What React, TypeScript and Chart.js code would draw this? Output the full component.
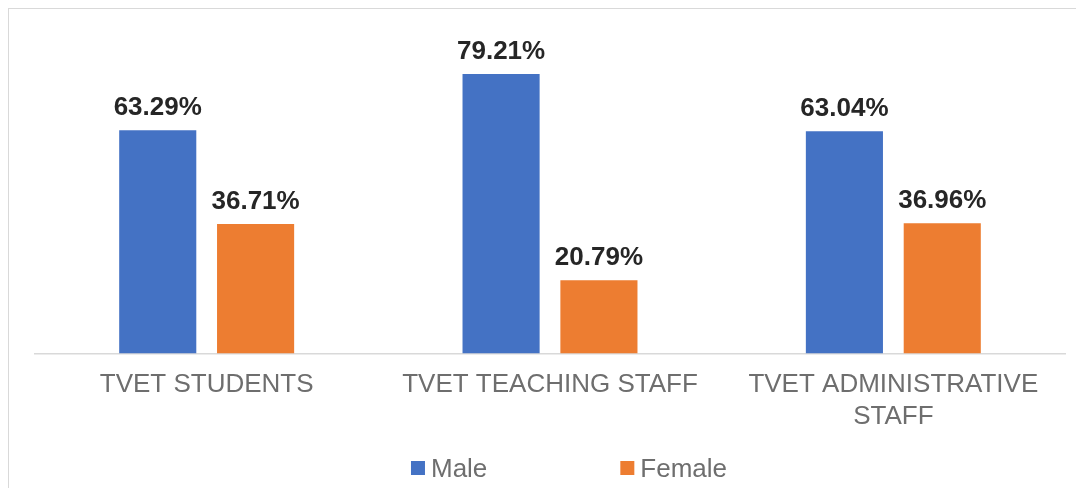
import { useEffect, useRef } from "react";
import { Chart, registerables } from "chart.js";

Chart.register(...registerables);

const CATEGORIES: string[][] = [
  ["TVET STUDENTS"],
  ["TVET TEACHING STAFF"],
  ["TVET ADMINISTRATIVE", "STAFF"],
];
const SERIES_NAMES = ["Male", "Female"];
const MALE = [63.29, 79.21, 63.04];
const FEMALE = [36.71, 20.79, 36.96];
const COLORS = ["#4472C4", "#ED7D31"];

const FONT = '"Liberation Sans", Arial, sans-serif';

export default function App() {
  const ref = useRef<HTMLCanvasElement>(null);

  useEffect(() => {
    const valueLabels = {
      id: "valueLabels",
      afterDatasetsDraw(chart: any) {
        const ctx = chart.ctx;
        ctx.save();
        ctx.font = `bold 26px ${FONT}`;
        ctx.fillStyle = "#262626";
        ctx.textAlign = "center";
        ctx.textBaseline = "alphabetic";
        chart.data.datasets.forEach((ds: any, i: number) => {
          const meta = chart.getDatasetMeta(i);
          meta.data.forEach((bar: any, j: number) => {
            const v = ds.data[j] as number;
            ctx.fillText(v.toFixed(2) + "%", bar.x, bar.y - 15);
          });
        });
        ctx.restore();
      },
    };

    const customLegend = {
      id: "customLegend",
      afterDraw(chart: any) {
        const ctx = chart.ctx;
        ctx.save();
        ctx.font = `26px ${FONT}`;
        const box = 14;
        const gap = 6;
        const itemGap = 133;
        const items = chart.data.datasets.map((ds: any) => ({
          label: ds.label as string,
          color: ds.backgroundColor as string,
          w: ctx.measureText(ds.label).width as number,
        }));
        let total = 0;
        items.forEach((it: any, i: number) => {
          total += box + gap + it.w + (i > 0 ? itemGap : 0);
        });
        const center = (chart.chartArea.left + chart.chartArea.right) / 2 + 19;
        let x = center - total / 2;
        const boxTop = chart.height - 27;
        const baseline = chart.height - 11;
        items.forEach((it: any) => {
          ctx.fillStyle = it.color;
          ctx.fillRect(x, boxTop, box, box);
          ctx.fillStyle = "#6e6e6e";
          ctx.textAlign = "left";
          ctx.textBaseline = "alphabetic";
          ctx.fillText(it.label, x + box + gap, baseline);
          x += box + gap + it.w + itemGap;
        });
        ctx.restore();
      },
    };

    const chart = new Chart(ref.current!, {
      type: "bar",
      data: {
        labels: CATEGORIES,
        datasets: [
          {
            label: SERIES_NAMES[0],
            data: MALE,
            backgroundColor: COLORS[0],
            categoryPercentage: 0.57,
            barPercentage: 0.788,
          },
          {
            label: SERIES_NAMES[1],
            data: FEMALE,
            backgroundColor: COLORS[1],
            categoryPercentage: 0.57,
            barPercentage: 0.788,
          },
        ],
      },
      options: {
        responsive: false,
        animation: false,
        layout: { padding: { left: 26, right: 11, top: 27, bottom: 48 } },
        plugins: {
          legend: { display: false },
          tooltip: { enabled: false },
        },
        scales: {
          x: {
            grid: { display: false },
            border: { display: true, color: "#d9d9d9", width: 1.5 },
            ticks: {
              color: "#6e6e6e",
              font: { family: FONT, size: 26, lineHeight: 1.2 },
              padding: 8,
              maxRotation: 0,
              autoSkip: false,
            },
          },
          y: {
            display: false,
            min: 0,
            max: 90,
          },
        },
      },
      plugins: [valueLabels, customLegend],
    });
    return () => chart.destroy();
  }, []);

  return (
    <div
      style={{
        width: 1068,
        height: 480,
        borderLeft: "1px solid #d9d9d9",
        borderTop: "1px solid #d9d9d9",
        boxSizing: "border-box",
      }}
    >
      <canvas ref={ref} width={1067} height={479} style={{ display: "block" }} />
    </div>
  );
}
